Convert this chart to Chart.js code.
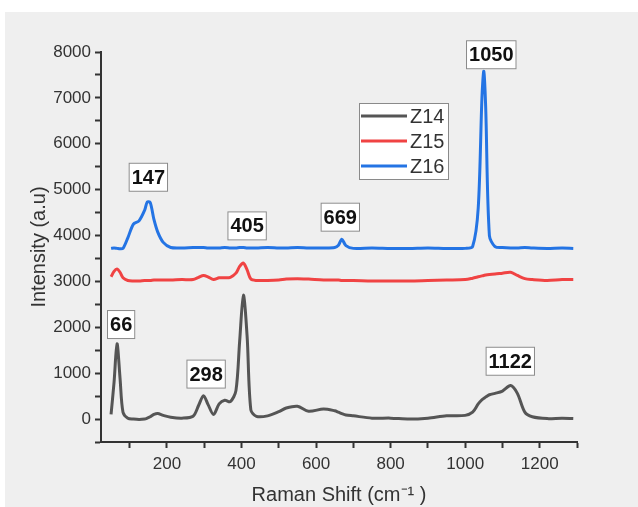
<!DOCTYPE html>
<html>
<head>
<meta charset="utf-8">
<script src="https://cdn.jsdelivr.net/npm/chart.js@4.4.0/dist/chart.umd.min.js"></script>
<style>
  body { margin: 0; background: #ffffff; }
  #wrap { position: absolute; left: 5px; top: 12px; width: 633px; height: 495px; background: #efefef; }
</style>
</head>
<body>
<div id="wrap"><canvas id="canvas" width="633" height="495"></canvas></div>
<script>
// Raman shift (cm-1) - shared x values
const shift = [50, 58, 66, 74, 82, 95, 110, 125, 140, 147, 155, 165, 175, 190, 210, 240, 270, 285, 298, 310,
  325, 340, 355, 370, 385, 395, 405, 415, 425, 440, 470, 500, 520, 550, 580, 620, 650, 660, 669, 680,
  700, 750, 800, 850, 900, 950, 1000, 1020, 1035, 1045, 1050, 1055, 1065, 1080, 1100, 1122, 1140, 1160, 1180, 1220,
  1260, 1290];

// Intensity values of each sample
const z14 = [100, 800, 1640, 900, 150, 20, 0, -10, 0, 20, 50, 100, 120, 80, 40, 20, 60, 300, 510, 320,
  100, 330, 410, 380, 620, 1700, 2700, 1800, 200, 60, 70, 160, 240, 280, 170, 220, 180, 150, 120, 90,
  70, 20, 20, 0, 20, 70, 80, 150, 330, 420, 450, 480, 530, 560, 610, 730, 560, 150, 50, 10,
  20, 10];
const z15 = [3100, 3220, 3270, 3200, 3080, 3020, 3010, 3010, 3020, 3020, 3020, 3030, 3030, 3030, 3030, 3040, 3040, 3090, 3130, 3100,
  3040, 3080, 3080, 3090, 3180, 3330, 3400, 3250, 3050, 3020, 3020, 3030, 3050, 3060, 3050, 3030, 3030, 3030, 3020, 3020,
  3020, 3010, 3010, 3010, 3020, 3030, 3040, 3070, 3100, 3120, 3130, 3140, 3150, 3160, 3180, 3200, 3130, 3060, 3040, 3020,
  3040, 3040];
const z16 = [3720, 3730, 3720, 3710, 3720, 3950, 4250, 4320, 4550, 4730, 4720, 4350, 4080, 3850, 3740, 3730, 3740, 3740, 3740, 3730,
  3730, 3730, 3740, 3730, 3730, 3740, 3740, 3730, 3730, 3730, 3740, 3730, 3730, 3740, 3730, 3730, 3740, 3790, 3920, 3780,
  3720, 3730, 3720, 3720, 3730, 3720, 3720, 3760, 4600, 7000, 7580, 6800, 4000, 3760, 3740, 3730, 3730, 3740, 3730, 3720,
  3730, 3720];

const seriesNames = ['Z14', 'Z15', 'Z16'];
const seriesColors = ['#555555', '#f04343', '#2474e4'];

// Peak labels: text, x, y (data units)
const peakText = ['66', '147', '298', '405', '669', '1050', '1122'];
const peakX = [77, 150, 305, 415, 665, 1070, 1121];
const peakY = [2060, 5270, 980, 4210, 4400, 7940, 1260];

const xTicks = [200, 400, 600, 800, 1000, 1200];
const yTicks = [0, 1000, 2000, 3000, 4000, 5000, 6000, 7000, 8000];

function toPoints(vals) {
  return shift.map((x, i) => ({ x: x, y: vals[i] }));
}

// Plugin to draw peak labels and the legend box
const annotatePlugin = {
  id: 'annotate',
  afterDatasetsDraw(chart) {
    const ctx = chart.ctx;
    const xs = chart.scales.x, ys = chart.scales.y;
    ctx.save();
    ctx.font = 'bold 20px "Liberation Sans", Arial, sans-serif';
    ctx.textAlign = 'center';
    ctx.textBaseline = 'middle';
    peakText.forEach((t, i) => {
      const px = xs.getPixelForValue(peakX[i]);
      const py = ys.getPixelForValue(peakY[i]);
      const w = ctx.measureText(t).width + 6;
      const h = 29;
      ctx.fillStyle = '#ffffff';
      ctx.fillRect(px - w / 2, py - h / 2, w, h);
      ctx.strokeStyle = '#8a8a8a';
      ctx.lineWidth = 1;
      ctx.strokeRect(px - w / 2 + 0.5, py - h / 2 + 0.5, w - 1, h - 1);
      ctx.fillStyle = '#111111';
      ctx.fillText(t, px, py + 1);
    });

    // legend
    const lx = 354, ly = 91, lw = 90, lh = 77;
    ctx.fillStyle = '#ffffff';
    ctx.fillRect(lx, ly, lw, lh);
    ctx.strokeStyle = '#8a8a8a';
    ctx.strokeRect(lx + 0.5, ly + 0.5, lw - 1, lh - 1);
    ctx.font = '20px "Liberation Sans", Arial, sans-serif';
    ctx.textAlign = 'left';
    seriesNames.forEach((n, i) => {
      const yy = ly + 13 + i * 25;
      ctx.strokeStyle = seriesColors[i];
      ctx.lineWidth = 3;
      ctx.beginPath();
      ctx.moveTo(lx + 2, yy);
      ctx.lineTo(lx + 48, yy);
      ctx.stroke();
      ctx.fillStyle = '#333333';
      ctx.fillText(n, lx + 51, yy + 1);
    });
    ctx.restore();
  }
};

const datasets = [z14, z15, z16].map((vals, i) => ({
  label: seriesNames[i],
  data: toPoints(vals),
  borderColor: seriesColors[i],
  borderWidth: 3,
  pointRadius: 0,
  tension: 0.3,
  fill: false
}));

const tickFont = { family: '"Liberation Sans", Arial, sans-serif', size: 17 };
const titleFont = { family: '"Liberation Sans", Arial, sans-serif', size: 20 };

new Chart(document.getElementById('canvas').getContext('2d'), {
  type: 'line',
  data: { datasets: datasets },
  plugins: [annotatePlugin],
  options: {
    responsive: false,
    animation: false,
    layout: { padding: { top: 40, right: 61, left: 0, bottom: 0 } },
    plugins: {
      legend: { display: false },
      tooltip: { enabled: false }
    },
    scales: {
      x: {
        type: 'linear',
        min: 23,
        max: 1300,
        afterFit(scale) { scale.height = 65; },
        ticks: {
          stepSize: 100,
          includeBounds: false,
          autoSkip: false,
          maxRotation: 0,
          padding: 6,
          color: '#333333',
          font: tickFont,
          callback: v => xTicks.includes(v) ? String(v) : ''
        },
        grid: { drawOnChartArea: false, drawTicks: true, tickLength: 6, tickColor: '#333333', tickWidth: 2 },
        border: { display: true, color: '#333333', width: 2 },
        title: { display: true, text: 'Raman Shift (cm\u207B\u00B9 )', color: '#333333', font: titleFont, padding: { top: 0, bottom: 0 } }
      },
      y: {
        type: 'linear',
        min: -500,
        max: 8000,
        afterFit(scale) { scale.width = 96; },
        ticks: {
          stepSize: 500,
          autoSkip: false,
          padding: 4,
          color: '#333333',
          font: tickFont,
          callback: v => yTicks.includes(v) ? String(v) : ''
        },
        grid: { drawOnChartArea: false, drawTicks: true, tickLength: 6, tickColor: '#333333', tickWidth: 2 },
        border: { display: true, color: '#333333', width: 2 },
        title: { display: true, text: 'Intensity (a.u)', color: '#333333', font: titleFont, padding: { top: 22, bottom: 0 } }
      }
    }
  }
});
</script>
</body>
</html>
